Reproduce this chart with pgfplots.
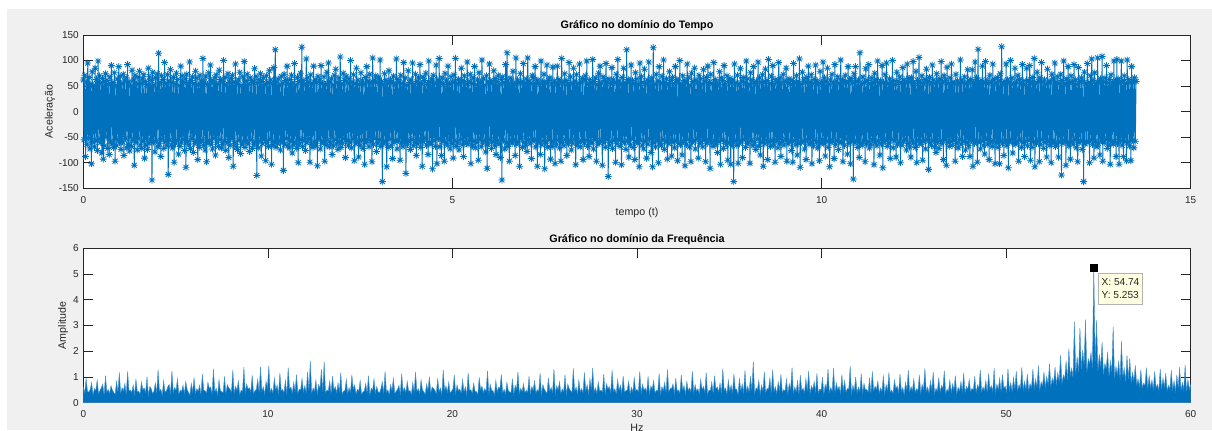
\documentclass[border=0pt]{standalone}
\usepackage{pgfplots}
\pgfplotsset{compat=1.18}
\usepackage{fontspec}
\setmainfont{Liberation Sans}
\definecolor{mblue}{RGB}{0,114,189}
\definecolor{mlight}{RGB}{70,146,206}
\definecolor{axgray}{RGB}{38,38,38}
\definecolor{figbg}{RGB}{240,240,240}
\definecolor{tipbg}{RGB}{255,255,225}
\pgfdeclareplotmark{mstar}{%
  \pgfpathmoveto{\pgfqpoint{-\pgfplotmarksize}{0pt}}%
  \pgfpathlineto{\pgfqpoint{\pgfplotmarksize}{0pt}}%
  \pgfpathmoveto{\pgfqpoint{0pt}{-\pgfplotmarksize}}%
  \pgfpathlineto{\pgfqpoint{0pt}{\pgfplotmarksize}}%
  \pgfpathmoveto{\pgfqpoint{-0.707\pgfplotmarksize}{-0.707\pgfplotmarksize}}%
  \pgfpathlineto{\pgfqpoint{0.707\pgfplotmarksize}{0.707\pgfplotmarksize}}%
  \pgfpathmoveto{\pgfqpoint{-0.707\pgfplotmarksize}{0.707\pgfplotmarksize}}%
  \pgfpathlineto{\pgfqpoint{0.707\pgfplotmarksize}{-0.707\pgfplotmarksize}}%
  \pgfusepathqstroke}
\pgfplotsset{
  every axis title shift=0pt,
  mstyle/.style={
    scale only axis, width=830.5pt, anchor=south west,
    axis background/.style={fill=white},
    axis line style={axgray, line width=0.5pt},
    tick style={axgray, line width=0.5pt},
    major tick length=7.5pt, tick align=inside,
    /pgf/number format/assume math mode=true,
    ticklabel style={font=\fontsize{7.5}{9}\selectfont, text=axgray},
    xticklabel style={anchor=center, yshift=-8.6pt},
    yticklabel style={anchor=east, inner sep=0pt, xshift=-3.2pt},
    title style={at={(0.5,1.0587)}, anchor=center, font=\bfseries\fontsize{8.1}{9.5}\selectfont, text=black},
    label style={font=\fontsize{8}{9.5}\selectfont, text=axgray},
    scaled ticks=false,
  }
}
\begin{document}
\begin{tikzpicture}
\path[use as bounding box, fill=white] (0,0) rectangle (909pt,322.5pt);
\fill[figbg] (5.25pt,0) rectangle (909pt,315.75pt);
\begin{axis}[mstyle, at={(62.5pt,181.3pt)}, height=115pt,
  xmin=0, xmax=15, ymin=-150, ymax=150,
  xtick={0,5,10,15}, ytick={-150,-100,...,150},
  title={Gráfico no domínio do Tempo},
  xlabel={tempo (t)}, ylabel={Aceleração},
  xlabel style={at={(axis description cs:0.5,-0.161)}, anchor=center},
  ylabel style={at={(axis description cs:-0.0301,0.5)}, anchor=center},
]
\addplot[mblue, line width=0.7pt, mark=mstar, mark size=2.6pt, mark options={line width=0.6pt}]
 table[x expr=\coordindex*0.01, y index=0, header=false, row sep=\\] {
62\\ -55\\ 71\\ -88\\ 58\\ -64\\ 95\\ -52\\ 67\\ -73\\ 54\\ -102\\ 78\\ -60\\ 51\\ -69\\ 85\\ -57\\ 63\\ -76\\ 99\\ -54\\ 70\\ -61\\ 56\\ -81\\ 65\\ -93\\ 59\\ -67\\ 74\\ -50\\ 61\\ -72\\ 53\\ -84\\ 68\\ -58\\ 90\\ -63\\
57\\ -70\\ 76\\ -97\\ 52\\ -66\\ 64\\ -55\\ 88\\ -61\\ 69\\ -74\\ 55\\ -59\\ 73\\ -86\\ 60\\ -52\\ 66\\ -71\\ 92\\ -64\\ 58\\ -77\\ 50\\ -68\\ 81\\ -56\\ 62\\ -105\\ 71\\ -60\\ 54\\ -75\\ 67\\ -53\\ 79\\ -65\\ 56\\ -72\\
64\\ -58\\ 72\\ -91\\ 59\\ -66\\ 53\\ -74\\ 85\\ -62\\ 68\\ -55\\ 61\\ -134\\ 77\\ -60\\ 52\\ -79\\ 66\\ -57\\ 74\\ -69\\ 114\\ -63\\ 57\\ -88\\ 70\\ -54\\ 63\\ -72\\ 96\\ -59\\ 55\\ -67\\ 72\\ -123\\ 60\\ -56\\ 82\\ -65\\
58\\ -71\\ 67\\ -99\\ 54\\ -62\\ 75\\ -57\\ 63\\ -83\\ 51\\ -68\\ 89\\ -60\\ 70\\ -54\\ 57\\ -76\\ 64\\ -109\\ 73\\ -59\\ 56\\ -65\\ 97\\ -72\\ 61\\ -53\\ 68\\ -80\\ 55\\ -63\\ 79\\ -58\\ 66\\ -94\\ 52\\ -70\\ 71\\ -61\\
60\\ -56\\ 104\\ -67\\ 58\\ -75\\ 69\\ -98\\ 53\\ -62\\ 76\\ -57\\ 91\\ -64\\ 61\\ -73\\ 56\\ -52\\ 66\\ -85\\ 72\\ -60\\ 54\\ -68\\ 81\\ -55\\ 63\\ -71\\ 59\\ -64\\ 100\\ -58\\ 67\\ -76\\ 52\\ -61\\ 74\\ -90\\ 57\\ -66\\
65\\ -53\\ 71\\ -107\\ 58\\ -62\\ 93\\ -69\\ 55\\ -74\\ 62\\ -56\\ 77\\ -82\\ 51\\ -65\\ 68\\ -59\\ 98\\ -70\\ 60\\ -57\\ 73\\ -63\\ 54\\ -78\\ 66\\ -55\\ 61\\ -72\\ 57\\ -64\\ 84\\ -60\\ 69\\ -125\\ 56\\ -71\\ 63\\ -58\\
74\\ -87\\ 59\\ -63\\ 66\\ -55\\ 53\\ -96\\ 70\\ -61\\ 57\\ -68\\ 80\\ -54\\ 62\\ -103\\ 55\\ -66\\ 86\\ -59\\ 121\\ -70\\ 58\\ -62\\ 64\\ -57\\ 52\\ -75\\ 69\\ -60\\ 56\\ -115\\ 73\\ -64\\ 61\\ -53\\ 89\\ -67\\ 54\\ -71\\
63\\ -58\\ 71\\ -81\\ 56\\ -65\\ 94\\ -60\\ 52\\ -72\\ 67\\ -100\\ 59\\ -63\\ 75\\ -55\\ 126\\ -68\\ 61\\ -57\\ 54\\ -76\\ 103\\ -61\\ 66\\ -53\\ 58\\ -99\\ 72\\ -64\\ 55\\ -70\\ 89\\ -59\\ 62\\ -66\\ 57\\ -106\\ 69\\ -54\\
60\\ -73\\ 90\\ -62\\ 55\\ -58\\ 68\\ -97\\ 53\\ -65\\ 77\\ -56\\ 95\\ -69\\ 58\\ -61\\ 64\\ -84\\ 52\\ -67\\ 71\\ -55\\ 83\\ -63\\ 57\\ -74\\ 66\\ -59\\ 107\\ -70\\ 54\\ -62\\ 75\\ -53\\ 61\\ -90\\ 69\\ -57\\ 56\\ -66\\
64\\ -60\\ 100\\ -71\\ 58\\ -54\\ 72\\ -96\\ 55\\ -63\\ 85\\ -58\\ 62\\ -89\\ 53\\ -67\\ 76\\ -56\\ 60\\ -72\\ 54\\ -103\\ 67\\ -61\\ 88\\ -55\\ 59\\ -69\\ 73\\ -57\\ 56\\ -98\\ 105\\ -64\\ 61\\ -53\\ 70\\ -78\\ 57\\ -62\\
66\\ -55\\ 101\\ -68\\ 59\\ -137\\ 53\\ -63\\ 74\\ -58\\ 62\\ -108\\ 56\\ -70\\ 80\\ -54\\ 61\\ -66\\ 57\\ -92\\ 69\\ -60\\ 54\\ -57\\ 103\\ -73\\ 63\\ -56\\ 58\\ -95\\ 71\\ -62\\ 55\\ -69\\ 96\\ -59\\ 66\\ -121\\ 52\\ -64\\
80\\ -58\\ 57\\ -74\\ 62\\ -55\\ 95\\ -67\\ 54\\ -61\\ 73\\ -86\\ 59\\ -63\\ 66\\ -56\\ 92\\ -70\\ 55\\ -107\\ 68\\ -59\\ 61\\ -52\\ 75\\ -66\\ 53\\ -84\\ 99\\ -60\\ 58\\ -64\\ 64\\ -112\\ 71\\ -57\\ 56\\ -68\\ 91\\ -102\\
62\\ -53\\ 104\\ -69\\ 57\\ -86\\ 66\\ -58\\ 53\\ -97\\ 75\\ -61\\ 60\\ -66\\ 89\\ -55\\ 54\\ -73\\ 68\\ -63\\ 58\\ -91\\ 72\\ -57\\ 104\\ -68\\ 55\\ -60\\ 63\\ -75\\ 57\\ -54\\ 85\\ -65\\ 61\\ -88\\ 70\\ -59\\ 54\\ -62\\
97\\ -64\\ 59\\ -56\\ 73\\ -102\\ 55\\ -67\\ 66\\ -58\\ 88\\ -71\\ 53\\ -60\\ 62\\ -95\\ 76\\ -54\\ 57\\ -69\\ 101\\ -62\\ 64\\ -57\\ 52\\ -79\\ 70\\ -111\\ 58\\ -63\\ 93\\ -55\\ 61\\ -72\\ 56\\ -59\\ 80\\ -66\\ 65\\ -84\\
59\\ -57\\ 71\\ -64\\ 54\\ -90\\ 63\\ -134\\ 68\\ -56\\ 57\\ -73\\ 92\\ -61\\ 115\\ -68\\ 55\\ -97\\ 66\\ -58\\ 60\\ -62\\ 79\\ -55\\ 53\\ -86\\ 105\\ -64\\ 62\\ -59\\ 57\\ -107\\ 74\\ -53\\ 58\\ -70\\ 94\\ -61\\ 56\\ -66\\
64\\ -78\\ 105\\ -55\\ 60\\ -63\\ 55\\ -92\\ 71\\ -58\\ 67\\ -54\\ 88\\ -69\\ 57\\ -107\\ 62\\ -60\\ 53\\ -84\\ 99\\ -65\\ 58\\ -57\\ 73\\ -112\\ 56\\ -62\\ 91\\ -70\\ 61\\ -55\\ 66\\ -93\\ 54\\ -68\\ 87\\ -59\\ 60\\ -102\\
55\\ -64\\ 89\\ -56\\ 63\\ -71\\ 58\\ -97\\ 104\\ -60\\ 57\\ -67\\ 74\\ -55\\ 61\\ -86\\ 53\\ -63\\ 96\\ -58\\ 68\\ -75\\ 56\\ -62\\ 85\\ -54\\ 60\\ -104\\ 72\\ -66\\ 55\\ -59\\ 93\\ -69\\ 58\\ -57\\ 65\\ -94\\ 62\\ -61\\
70\\ -56\\ 99\\ -68\\ 54\\ -88\\ 63\\ -58\\ 57\\ -62\\ 102\\ -73\\ 59\\ -55\\ 66\\ -97\\ 53\\ -64\\ 75\\ -60\\ 89\\ -57\\ 56\\ -105\\ 68\\ -61\\ 61\\ -70\\ 94\\ -54\\ 58\\ -127\\ 64\\ -66\\ 55\\ -59\\ 86\\ -72\\ 62\\ -56\\
57\\ -99\\ 73\\ -63\\ 102\\ -55\\ 60\\ -68\\ 54\\ -104\\ 67\\ -58\\ 85\\ -61\\ 56\\ -74\\ 121\\ -57\\ 63\\ -89\\ 58\\ -65\\ 91\\ -54\\ 61\\ -70\\ 55\\ -94\\ 76\\ -59\\ 64\\ -62\\ 53\\ -108\\ 95\\ -56\\ 68\\ -66\\ 57\\ -73\\
83\\ -58\\ 55\\ -91\\ 62\\ -64\\ 97\\ -53\\ 59\\ -80\\ 66\\ -108\\ 125\\ -61\\ 54\\ -69\\ 73\\ -57\\ 60\\ -100\\ 88\\ -62\\ 56\\ -66\\ 69\\ -55\\ 101\\ -74\\ 57\\ -59\\ 64\\ -93\\ 53\\ -63\\ 78\\ -56\\ 61\\ -87\\ 67\\ -60\\
55\\ -71\\ 88\\ -57\\ 63\\ -96\\ 58\\ -62\\ 100\\ -65\\ 54\\ -85\\ 70\\ -58\\ 61\\ -106\\ 57\\ -64\\ 93\\ -55\\ 66\\ -69\\ 52\\ -98\\ 75\\ -60\\ 59\\ -57\\ 85\\ -73\\ 62\\ -54\\ 56\\ -91\\ 71\\ -63\\ 64\\ -59\\ 54\\ -69\\
82\\ -56\\ 60\\ -98\\ 67\\ -62\\ 89\\ -55\\ 57\\ -111\\ 73\\ -60\\ 55\\ -68\\ 96\\ -57\\ 63\\ -64\\ 58\\ -80\\ 53\\ -59\\ 78\\ -103\\ 66\\ -56\\ 61\\ -72\\ 90\\ -58\\ 54\\ -65\\ 70\\ -95\\ 59\\ -61\\ 65\\ -103\\ 56\\ -67\\
62\\ -137\\ 93\\ -58\\ 56\\ -66\\ 71\\ -101\\ 54\\ -62\\ 84\\ -57\\ 60\\ -90\\ 67\\ -55\\ 57\\ -70\\ 99\\ -63\\ 64\\ -59\\ 53\\ -101\\ 76\\ -56\\ 62\\ -67\\ 88\\ -61\\ 55\\ -74\\ 59\\ -54\\ 97\\ -68\\ 66\\ -85\\ 58\\ -60\\
72\\ -107\\ 57\\ -63\\ 83\\ -56\\ 61\\ -94\\ 102\\ -60\\ 55\\ -68\\ 69\\ -57\\ 90\\ -64\\ 54\\ -99\\ 63\\ -55\\ 58\\ -71\\ 96\\ -62\\ 66\\ -88\\ 56\\ -58\\ 73\\ -66\\ 60\\ -54\\ 85\\ -97\\ 57\\ -63\\ 64\\ -59\\ 53\\ -76\\
61\\ -99\\ 94\\ -57\\ 56\\ -65\\ 70\\ -85\\ 59\\ -62\\ 103\\ -109\\ 54\\ -60\\ 77\\ -58\\ 62\\ -73\\ 57\\ -94\\ 67\\ -55\\ 89\\ -64\\ 58\\ -61\\ 72\\ -102\\ 55\\ -67\\ 63\\ -56\\ 91\\ -59\\ 60\\ -71\\ 53\\ -96\\ 79\\ -62\\
57\\ -55\\ 97\\ -63\\ 66\\ -87\\ 59\\ -58\\ 85\\ -70\\ 54\\ -108\\ 62\\ -60\\ 73\\ -56\\ 56\\ -92\\ 92\\ -64\\ 60\\ -57\\ 68\\ -74\\ 55\\ -61\\ 101\\ -59\\ 63\\ -98\\ 58\\ -66\\ 71\\ -54\\ 57\\ -83\\ 88\\ -62\\ 61\\ -102\\
65\\ -58\\ 56\\ -132\\ 74\\ -61\\ 88\\ -57\\ 59\\ -70\\ 62\\ -90\\ 115\\ -63\\ 54\\ -66\\ 68\\ -56\\ 57\\ -98\\ 84\\ -62\\ 61\\ -59\\ 92\\ -71\\ 55\\ -64\\ 66\\ -55\\ 58\\ -104\\ 75\\ -60\\ 63\\ -67\\ 99\\ -57\\ 56\\ -85\\
60\\ -63\\ 90\\ -110\\ 57\\ -59\\ 72\\ -56\\ 95\\ -68\\ 55\\ -62\\ 64\\ -92\\ 58\\ -55\\ 100\\ -71\\ 61\\ -57\\ 53\\ -89\\ 77\\ -64\\ 59\\ -60\\ 68\\ -100\\ 56\\ -66\\ 86\\ -58\\ 62\\ -54\\ 57\\ -75\\ 93\\ -63\\ 65\\ -69\\
58\\ -89\\ 66\\ -57\\ 98\\ -62\\ 55\\ -70\\ 79\\ -100\\ 61\\ -56\\ 106\\ -64\\ 57\\ -60\\ 70\\ -95\\ 54\\ -58\\ 63\\ -73\\ 83\\ -55\\ 59\\ -113\\ 67\\ -61\\ 56\\ -66\\ 91\\ -57\\ 62\\ -69\\ 55\\ -80\\ 74\\ -59\\ 60\\ -72\\
64\\ -57\\ 98\\ -63\\ 57\\ -94\\ 70\\ -55\\ 61\\ -105\\ 87\\ -60\\ 55\\ -68\\ 66\\ -58\\ 93\\ -66\\ 58\\ -56\\ 54\\ -97\\ 73\\ -62\\ 60\\ -71\\ 56\\ -54\\ 101\\ -64\\ 62\\ -88\\ 57\\ -59\\ 68\\ -75\\ 55\\ -61\\ 82\\ -67\\
59\\ -88\\ 63\\ -56\\ 82\\ -107\\ 56\\ -62\\ 97\\ -58\\ 66\\ -99\\ 122\\ -60\\ 54\\ -73\\ 61\\ -57\\ 89\\ -66\\ 57\\ -83\\ 98\\ -55\\ 62\\ -64\\ 55\\ -94\\ 71\\ -59\\ 58\\ -68\\ 93\\ -57\\ 63\\ -102\\ 56\\ -61\\ 67\\ -70\\
60\\ -102\\ 74\\ -58\\ 127\\ -63\\ 55\\ -86\\ 59\\ -57\\ 93\\ -66\\ 62\\ -110\\ 57\\ -60\\ 100\\ -55\\ 66\\ -81\\ 54\\ -62\\ 85\\ -64\\ 58\\ -59\\ 71\\ -97\\ 63\\ -56\\ 56\\ -70\\ 92\\ -61\\ 60\\ -88\\ 53\\ -58\\ 85\\ -67\\
61\\ -56\\ 90\\ -95\\ 57\\ -70\\ 67\\ -59\\ 104\\ -108\\ 55\\ -62\\ 77\\ -57\\ 59\\ -98\\ 66\\ -64\\ 96\\ -55\\ 58\\ -72\\ 62\\ -60\\ 54\\ -89\\ 83\\ -58\\ 60\\ -66\\ 56\\ -100\\ 73\\ -57\\ 64\\ -61\\ 95\\ -68\\ 57\\ -63\\
68\\ -89\\ 56\\ -59\\ 73\\ -124\\ 61\\ -62\\ 99\\ -56\\ 55\\ -105\\ 64\\ -60\\ 88\\ -67\\ 57\\ -93\\ 70\\ -58\\ 58\\ -64\\ 92\\ -55\\ 62\\ -71\\ 54\\ -98\\ 86\\ -61\\ 59\\ -57\\ 66\\ -74\\ 60\\ -137\\ 77\\ -63\\ 55\\ -59\\
94\\ -60\\ 57\\ -100\\ 70\\ -56\\ 103\\ -64\\ 61\\ -91\\ 76\\ -58\\ 55\\ -69\\ 105\\ -62\\ 59\\ -85\\ 64\\ -57\\ 108\\ -97\\ 58\\ -61\\ 66\\ -55\\ 90\\ -72\\ 56\\ -66\\ 63\\ -103\\ 72\\ -59\\ 57\\ -64\\ 99\\ -58\\ 60\\ -88\\
102\\ -62\\ 64\\ -103\\ 58\\ -57\\ 99\\ -66\\ 61\\ -88\\ 70\\ -59\\ 55\\ -96\\ 101\\ -60\\ 63\\ -67\\ 57\\ -96\\ 88\\ -56\\ 60\\ -71\\ 66\\ -58\\ 59\\
};
\end{axis}
\begin{axis}[mstyle, at={(62.5pt,20.5pt)}, height=115.8pt,
  xmin=0, xmax=60, ymin=0, ymax=6,
  xtick={0,10,...,60}, ytick={0,1,...,6},
  title={Gráfico no domínio da Frequência},
  title style={at={(0.5,1.054)}},
  xlabel={Hz}, ylabel={Amplitude},
  xlabel style={at={(axis description cs:0.5,-0.165)}, anchor=center},
  ylabel style={at={(axis description cs:-0.0183,0.5)}, anchor=center},
]
\addplot[mlight, line width=0.3pt, fill=mblue]
 table[x expr=\coordindex*0.075, y index=0, header=false, row sep=\\] {
0.62\\ 0.38\\ 0.95\\ 0.44\\ 0.41\\ 0.52\\ 0.78\\ 0.31\\ 0.55\\ 0.47\\ 0.88\\ 0.35\\ 0.47\\ 0.58\\ 0.72\\ 0.29\\ 1.05\\ 0.42\\ 0.51\\ 0.36\\ 0.66\\ 0.49\\ 0.39\\ 0.33\\ 0.84\\ 0.41\\ 1.18\\ 0.37\\ 0.58\\ 0.46\\ 0.74\\ 0.32\\ 1.22\\ 0.45\\ 0.49\\ 0.39\\ 0.69\\ 0.30\\ 0.92\\ 0.43\\
0.44\\ 0.34\\ 0.81\\ 0.50\\ 0.57\\ 0.40\\ 1.01\\ 0.28\\ 0.63\\ 0.55\\ 0.36\\ 0.43\\ 0.77\\ 0.37\\ 1.28\\ 0.46\\ 0.52\\ 0.30\\ 0.86\\ 0.41\\ 0.45\\ 0.62\\ 0.71\\ 0.35\\ 1.24\\ 0.39\\ 0.59\\ 0.48\\ 0.93\\ 0.33\\ 0.48\\ 0.44\\ 0.67\\ 0.36\\ 0.82\\ 0.51\\ 0.40\\ 0.29\\ 0.75\\ 0.42\\
0.97\\ 0.37\\ 0.54\\ 0.45\\ 0.68\\ 0.31\\ 1.12\\ 0.49\\ 0.46\\ 0.38\\ 0.79\\ 0.56\\ 0.61\\ 0.34\\ 1.31\\ 0.42\\ 0.56\\ 0.30\\ 0.89\\ 0.47\\ 0.43\\ 0.39\\ 1.02\\ 0.35\\ 0.70\\ 0.58\\ 0.52\\ 0.41\\ 1.26\\ 0.36\\ 0.64\\ 0.48\\ 0.85\\ 0.32\\ 0.49\\ 0.44\\ 1.38\\ 0.40\\ 0.73\\ 0.53\\
0.58\\ 0.43\\ 1.06\\ 0.36\\ 0.47\\ 0.52\\ 0.91\\ 0.39\\ 1.40\\ 0.45\\ 0.62\\ 0.33\\ 0.83\\ 0.57\\ 1.44\\ 0.41\\ 0.55\\ 0.37\\ 0.96\\ 0.50\\ 0.68\\ 0.35\\ 1.15\\ 0.46\\ 0.51\\ 0.40\\ 0.87\\ 0.31\\ 1.36\\ 0.54\\ 0.60\\ 0.38\\ 0.79\\ 0.44\\ 1.09\\ 0.36\\ 0.53\\ 0.49\\ 0.94\\ 0.42\\
0.66\\ 0.40\\ 1.21\\ 0.48\\ 1.62\\ 0.37\\ 0.57\\ 0.44\\ 0.88\\ 0.33\\ 0.71\\ 0.55\\ 1.30\\ 0.42\\ 1.60\\ 0.39\\ 0.49\\ 0.46\\ 0.84\\ 0.35\\ 1.03\\ 0.51\\ 0.62\\ 0.38\\ 0.77\\ 0.43\\ 1.17\\ 0.32\\ 0.45\\ 0.47\\ 0.90\\ 0.36\\ 0.58\\ 0.41\\ 1.08\\ 0.53\\ 0.69\\ 0.34\\ 0.52\\ 0.45\\
0.86\\ 0.33\\ 0.41\\ 0.46\\ 0.74\\ 0.38\\ 1.05\\ 0.30\\ 0.56\\ 0.49\\ 0.92\\ 0.36\\ 0.63\\ 0.42\\ 0.38\\ 0.54\\ 0.81\\ 0.35\\ 1.22\\ 0.40\\ 0.50\\ 0.31\\ 0.70\\ 0.47\\ 0.95\\ 0.37\\ 0.44\\ 0.52\\ 0.67\\ 0.34\\ 1.13\\ 0.43\\ 0.59\\ 0.39\\ 0.83\\ 0.45\\ 0.47\\ 0.32\\ 0.78\\ 0.41\\
1.19\\ 0.44\\ 0.54\\ 0.36\\ 0.89\\ 0.50\\ 0.42\\ 0.33\\ 0.73\\ 0.47\\ 1.01\\ 0.39\\ 0.61\\ 0.55\\ 0.48\\ 0.35\\ 0.94\\ 0.43\\ 0.57\\ 0.31\\ 1.27\\ 0.48\\ 0.65\\ 0.40\\ 0.80\\ 0.37\\ 0.45\\ 0.53\\ 1.07\\ 0.34\\ 0.69\\ 0.46\\ 0.53\\ 0.38\\ 0.90\\ 0.42\\ 0.62\\ 0.30\\ 1.16\\ 0.49\\
0.50\\ 0.37\\ 0.76\\ 0.45\\ 0.43\\ 0.32\\ 0.98\\ 0.51\\ 0.64\\ 0.39\\ 0.55\\ 0.44\\ 1.24\\ 0.35\\ 0.71\\ 0.48\\ 0.46\\ 0.30\\ 0.87\\ 0.42\\ 0.60\\ 0.56\\ 1.10\\ 0.38\\ 0.52\\ 0.34\\ 0.79\\ 0.47\\ 0.41\\ 0.40\\ 0.93\\ 0.33\\ 0.67\\ 0.52\\ 1.20\\ 0.36\\ 0.56\\ 0.43\\ 0.74\\ 0.39\\
0.48\\ 0.41\\ 1.03\\ 0.35\\ 0.63\\ 0.49\\ 0.85\\ 0.38\\ 0.51\\ 0.44\\ 1.15\\ 0.31\\ 0.70\\ 0.53\\ 0.44\\ 0.36\\ 0.96\\ 0.46\\ 0.59\\ 0.40\\ 1.30\\ 0.34\\ 0.66\\ 0.50\\ 0.82\\ 0.37\\ 0.53\\ 0.43\\ 1.08\\ 0.32\\ 0.72\\ 0.55\\ 0.47\\ 0.39\\ 1.33\\ 0.45\\ 0.61\\ 0.35\\ 0.88\\ 0.42\\
0.55\\ 0.38\\ 1.18\\ 0.47\\ 0.69\\ 0.33\\ 0.93\\ 0.52\\ 1.35\\ 0.40\\ 0.58\\ 0.36\\ 0.81\\ 0.45\\ 0.49\\ 0.42\\ 1.11\\ 0.31\\ 0.74\\ 0.54\\ 0.62\\ 0.39\\ 1.26\\ 0.44\\ 0.54\\ 0.35\\ 0.90\\ 0.48\\ 0.68\\ 0.37\\ 1.04\\ 0.43\\ 0.46\\ 0.51\\ 0.84\\ 0.34\\ 0.60\\ 0.41\\ 0.97\\ 0.46\\
0.52\\ 0.43\\ 1.21\\ 0.36\\ 0.71\\ 0.49\\ 0.57\\ 0.40\\ 1.02\\ 0.34\\ 0.65\\ 0.53\\ 0.86\\ 0.38\\ 0.48\\ 0.45\\ 1.14\\ 0.32\\ 0.62\\ 0.47\\ 0.79\\ 0.39\\ 1.29\\ 0.42\\ 0.55\\ 0.56\\ 0.73\\ 0.35\\ 0.95\\ 0.44\\ 0.50\\ 0.37\\ 1.08\\ 0.50\\ 0.66\\ 0.33\\ 0.83\\ 0.46\\ 0.58\\ 0.41\\
1.23\\ 0.38\\ 0.70\\ 0.45\\ 0.54\\ 0.35\\ 0.91\\ 0.51\\ 0.63\\ 0.40\\ 1.17\\ 0.33\\ 0.49\\ 0.47\\ 0.80\\ 0.36\\ 1.05\\ 0.54\\ 0.61\\ 0.42\\ 0.76\\ 0.37\\ 1.32\\ 0.48\\ 0.57\\ 0.34\\ 0.88\\ 0.44\\ 0.68\\ 0.39\\ 1.12\\ 0.52\\ 0.53\\ 0.31\\ 0.95\\ 0.46\\ 0.72\\ 0.40\\ 1.25\\ 0.43\\
0.64\\ 0.41\\ 1.03\\ 0.47\\ 1.59\\ 0.36\\ 0.58\\ 0.50\\ 0.87\\ 0.33\\ 0.69\\ 0.45\\ 1.20\\ 0.39\\ 0.55\\ 0.53\\ 0.96\\ 0.37\\ 1.28\\ 0.44\\ 0.62\\ 0.34\\ 0.81\\ 0.49\\ 1.10\\ 0.40\\ 0.51\\ 0.46\\ 0.92\\ 0.35\\ 0.74\\ 0.52\\ 1.36\\ 0.38\\ 0.60\\ 0.43\\ 0.85\\ 0.32\\ 1.07\\ 0.48\\
0.56\\ 0.39\\ 0.94\\ 0.46\\ 1.24\\ 0.35\\ 0.66\\ 0.51\\ 0.82\\ 0.42\\ 1.14\\ 0.37\\ 0.53\\ 0.48\\ 0.99\\ 0.33\\ 0.71\\ 0.55\\ 1.30\\ 0.40\\ 0.59\\ 0.44\\ 1.35\\ 0.38\\ 0.77\\ 0.50\\ 0.63\\ 0.36\\ 1.09\\ 0.47\\ 0.86\\ 0.41\\ 0.55\\ 0.53\\ 1.42\\ 0.34\\ 0.68\\ 0.45\\ 1.00\\ 0.39\\
0.61\\ 0.43\\ 1.13\\ 0.37\\ 0.75\\ 0.49\\ 0.52\\ 0.40\\ 0.97\\ 0.35\\ 1.22\\ 0.46\\ 0.64\\ 0.52\\ 0.84\\ 0.38\\ 0.57\\ 0.44\\ 1.06\\ 0.34\\ 0.70\\ 0.48\\ 1.18\\ 0.41\\ 0.49\\ 0.36\\ 0.89\\ 0.54\\ 0.65\\ 0.39\\ 1.11\\ 0.45\\ 0.58\\ 0.33\\ 0.79\\ 0.50\\ 1.26\\ 0.42\\ 0.62\\ 0.47\\
0.93\\ 0.40\\ 0.54\\ 0.47\\ 1.08\\ 0.36\\ 0.71\\ 0.52\\ 1.33\\ 0.43\\ 0.60\\ 0.38\\ 0.85\\ 0.49\\ 1.19\\ 0.35\\ 0.56\\ 0.45\\ 0.97\\ 0.41\\ 0.67\\ 0.55\\ 1.24\\ 0.37\\ 0.52\\ 0.44\\ 0.88\\ 0.39\\ 0.73\\ 0.50\\ 1.05\\ 0.34\\ 0.59\\ 0.46\\ 0.82\\ 0.42\\ 1.16\\ 0.38\\ 0.63\\ 0.51\\
0.90\\ 0.44\\ 0.55\\ 0.50\\ 1.02\\ 0.39\\ 0.69\\ 0.56\\ 1.27\\ 0.42\\ 0.61\\ 0.47\\ 0.86\\ 0.40\\ 1.14\\ 0.53\\ 0.66\\ 0.45\\ 1.34\\ 0.38\\ 0.72\\ 0.51\\ 0.95\\ 0.43\\ 1.10\\ 0.57\\ 0.64\\ 0.41\\ 1.31\\ 0.48\\ 0.78\\ 0.44\\ 0.98\\ 0.52\\ 1.22\\ 0.46\\ 0.70\\ 0.55\\ 1.37\\ 0.49\\
0.83\\ 0.52\\ 1.12\\ 0.47\\ 0.74\\ 0.58\\ 1.30\\ 0.55\\ 0.92\\ 0.61\\ 1.45\\ 0.50\\ 0.81\\ 0.66\\ 1.20\\ 0.59\\ 1.02\\ 0.72\\ 1.52\\ 0.63\\ 0.95\\ 0.78\\ 1.38\\ 0.70\\ 1.16\\ 0.85\\ 1.85\\ 0.76\\ 1.07\\ 0.92\\ 1.62\\ 0.88\\ 2.10\\ 1.05\\ 1.34\\ 0.97\\ 3.15\\ 1.12\\ 1.78\\ 1.20\\
2.90\\ 1.30\\ 2.05\\ 1.45\\ 3.24\\ 1.18\\ 1.70\\ 1.52\\ 1.95\\ 1.36\\ 5.253\\ 1.60\\ 3.20\\ 1.25\\ 1.88\\ 1.40\\ 2.35\\ 1.10\\ 1.52\\ 1.33\\ 1.98\\ 1.02\\ 1.62\\ 1.20\\ 2.95\\ 0.95\\ 1.41\\ 1.08\\ 1.63\\ 0.90\\ 2.40\\ 1.00\\ 1.35\\ 0.82\\ 1.84\\ 0.93\\ 1.72\\ 0.76\\ 1.18\\ 0.85\\
1.45\\ 0.70\\ 0.92\\ 0.62\\ 1.28\\ 0.58\\ 0.76\\ 0.66\\ 1.36\\ 0.55\\ 1.05\\ 0.60\\ 0.88\\ 0.52\\ 1.22\\ 0.57\\ 0.71\\ 0.49\\ 1.31\\ 0.54\\ 0.95\\ 0.61\\ 1.14\\ 0.47\\ 0.67\\ 0.53\\ 1.26\\ 0.50\\ 0.84\\ 0.45\\ 1.08\\ 0.56\\ 1.38\\ 0.48\\ 0.79\\ 0.51\\ 1.47\\ 0.44\\ 0.90\\ 0.52\\
0.72\\
} \closedcycle;
\addplot[only marks, mark=square*, mark size=2.6pt, black] coordinates {(54.74,5.253)};
\node[draw=gray!60, fill=tipbg, anchor=north west, align=left, font=\fontsize{7.6}{9.5}\selectfont, inner xsep=2.5pt, inner ysep=4.2pt, text=axgray] at (axis cs:54.98,5.05) {X: 54.74\\Y: 5.253};
\end{axis}
\end{tikzpicture}
\end{document}
